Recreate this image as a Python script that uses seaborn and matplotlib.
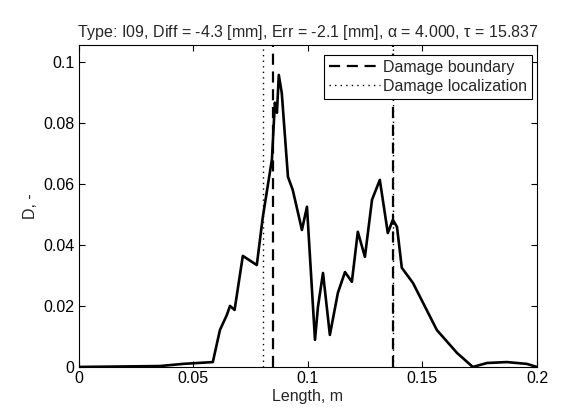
import numpy as np
import pandas as pd
import matplotlib
matplotlib.use("Agg")
import matplotlib.pyplot as plt
import seaborn as sns

# -----------------------------
# Datos
# -----------------------------
length_m = [0.0, 0.0354, 0.0454, 0.0585, 0.0616, 0.0646, 0.066, 0.068, 0.0716,
            0.0777, 0.0803, 0.0843, 0.0856, 0.0865, 0.0873, 0.0886, 0.0913,
            0.0934, 0.0974, 0.0996, 0.1031, 0.1044, 0.1066, 0.1096, 0.1131,
            0.1162, 0.1192, 0.1218, 0.1249, 0.128, 0.1314, 0.1349, 0.1371,
            0.1389, 0.141, 0.1459, 0.1563, 0.1651, 0.172, 0.1782, 0.1869,
            0.1956, 0.2]
damage = [0.0, 0.0003, 0.001, 0.0016, 0.0121, 0.017, 0.020, 0.0187, 0.0364,
          0.0334, 0.049, 0.068, 0.0866, 0.0833, 0.0957, 0.0898, 0.0623,
          0.058, 0.0449, 0.0525, 0.0089, 0.0197, 0.0308, 0.0105, 0.0243,
          0.0311, 0.0279, 0.0443, 0.0361, 0.0548, 0.0613, 0.0439, 0.0482,
          0.0459, 0.0325, 0.0275, 0.0121, 0.0046, 0.0, 0.0013, 0.0016,
          0.001, 0.0]

boundary_x = [0.0847, 0.137]
localization_x = [0.0803, 0.137]

xticks = [0, 0.05, 0.1, 0.15, 0.2]
xtick_labels = ["0", "0.05", "0.1", "0.15", "0.2"]
yticks = [0, 0.02, 0.04, 0.06, 0.08, 0.1]
ytick_labels = ["0", "0.02", "0.04", "0.06", "0.08", "0.1"]

title = (r"Type: I09, Diff = -4.3 [mm], Err = -2.1 [mm], $\alpha$ = 4.000, "
         r"$\tau$ = 15.837")

df = pd.DataFrame({"Length": length_m, "D": damage})

# -----------------------------
# Estilo
# -----------------------------
FS = 11.5
sns.set_style("ticks")
plt.rcParams["font.family"] = ["Liberation Sans", "DejaVu Sans"]
plt.rcParams["mathtext.fontset"] = "custom"
plt.rcParams["mathtext.rm"] = "Liberation Sans"
plt.rcParams["mathtext.it"] = "Liberation Sans"
plt.rcParams["font.size"] = FS

fig = plt.figure(figsize=(5.67, 4.17), dpi=100)
ax = fig.add_axes([0.139, 0.12, 0.808, 0.772])

sns.lineplot(data=df, x="Length", y="D", color="black", linewidth=1.9, ax=ax)

for i, xb in enumerate(boundary_x):
    ax.axvline(xb, color="black", linestyle=(0, (5, 3)), linewidth=1.6,
               label="Damage boundary" if i == 0 else None)
for i, xl in enumerate(localization_x):
    ax.axvline(xl, color="black", linestyle=(0, (1, 3)), linewidth=1.0,
               label="Damage localization" if i == 0 else None)

ax.set_xlim(0, 0.2)
ax.set_ylim(0, 0.1055)
ax.set_xticks(xticks)
ax.set_xticklabels(xtick_labels)
ax.set_yticks(yticks)
ax.set_yticklabels(ytick_labels)
ax.tick_params(direction="in", top=True, right=True, length=4, width=0.8,
               labelsize=FS, colors="black", pad=3)
for s in ax.spines.values():
    s.set_visible(True)
    s.set_color("black")
    s.set_linewidth(0.8)

ax.set_xlabel("Length, m", fontsize=FS, labelpad=2)
ax.set_ylabel("D, -", fontsize=FS)
ax.set_title(title, fontsize=FS, pad=6)

leg = ax.legend(loc="upper right", bbox_to_anchor=(0.989, 0.969),
                borderaxespad=0, fontsize=FS, fancybox=False, framealpha=1,
                edgecolor="black", handlelength=3.2, handletextpad=0.2,
                borderpad=0.3, labelspacing=0.25)
leg.get_frame().set_linewidth(0.8)

fig.savefig("out.png", dpi=100)
